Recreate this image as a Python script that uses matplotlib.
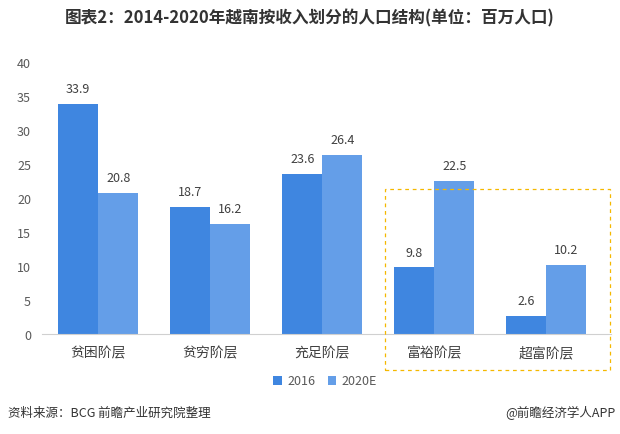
import matplotlib.pyplot as plt
import numpy as np
from matplotlib.patches import Rectangle

plt.rcParams['font.family'] = ['Noto Sans CJK SC', 'DejaVu Sans']

categories = ["贫困阶层", "贫穷阶层", "充足阶层", "富裕阶层", "超富阶层"]
values_2016 = [33.9, 18.7, 23.6, 9.8, 2.6]
values_2020 = [20.8, 16.2, 26.4, 22.5, 10.2]
series_names = ["2016", "2020E"]
y_ticks = [0, 5, 10, 15, 20, 25, 30, 35, 40]

c2016 = "#3F86E0"
c2020 = "#649EE8"
text_color = "#404040"

fig = plt.figure(figsize=(6.2, 4.35), dpi=100)
ax = fig.add_axes([0.068, 0.230, 0.918, 0.625])

x = np.arange(len(categories))
w = 0.357
b1 = ax.bar(x - w / 2, values_2016, w, color=c2016, label=series_names[0])
b2 = ax.bar(x + w / 2, values_2020, w, color=c2020, label=series_names[1])

for bars in (b1, b2):
    for rect in bars:
        h = rect.get_height()
        ax.text(rect.get_x() + rect.get_width() / 2, h + 1.3, f"{h:.1f}",
                ha="center", va="bottom", fontsize=9, color=text_color)

ax.set_xlim(-0.5, 4.58)
ax.set_ylim(0, 40)
ax.set_yticks(y_ticks)
ax.set_xticks(x)
ax.set_xticklabels(categories, fontsize=10, color=text_color)
ax.tick_params(axis="y", length=0, labelsize=9, labelcolor="#595959", pad=8)
ax.tick_params(axis="x", length=0, pad=8)
for side in ("left", "right", "top"):
    ax.spines[side].set_visible(False)
ax.spines["bottom"].set_color("#D0D0D0")

# dashed highlight box around the last two groups
box = Rectangle((385 / 620, 1 - 371 / 435), 225 / 620, 181 / 435,
                transform=fig.transFigure, fill=False, edgecolor="#F5B800",
                linestyle=(0, (3, 3)), linewidth=0.9)
fig.patches.append(box)

ax.legend(loc="center", bbox_to_anchor=(325 / 620, 1 - 382 / 435),
          bbox_transform=fig.transFigure, ncol=2, frameon=False,
          fontsize=9, handlelength=0.7, handleheight=0.7,
          columnspacing=1.0, handletextpad=0.4, labelcolor="#595959")

fig.text(0.5, 1 - 18 / 435, "图表2：2014-2020年越南按收入划分的人口结构(单位：百万人口)",
         ha="center", va="center", fontsize=12, fontweight="bold", color="#333333")
fig.text(8 / 620, 1 - 413 / 435, "资料来源：BCG 前瞻产业研究院整理",
         ha="left", va="center", fontsize=9, color="#333333")
fig.text(616 / 620, 1 - 413 / 435, "@前瞻经济学人APP",
         ha="right", va="center", fontsize=9, color="#333333")

fig.savefig("out.png", dpi=100)
